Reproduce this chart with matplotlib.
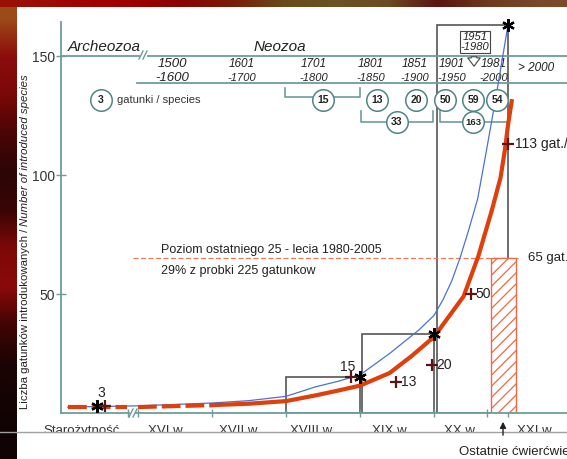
import numpy as np
import matplotlib.pyplot as plt
from matplotlib.colors import to_rgb

plt.rcParams['font.family'] = ['Liberation Sans', 'DejaVu Sans']
plt.rcParams['hatch.linewidth'] = 0.9

# cumulative curves (year, number of species)
red_years = [1405, 1485, 1500, 1600, 1650, 1700, 1740, 1770, 1800, 1840, 1870,
             1900, 1920, 1940, 1960, 1978, 1990, 1996, 2000, 2005]
red_values = [2.5, 2.5, 2.5, 3.3, 3.9, 5.0, 7.4, 9.4, 11.5, 16.8, 24.0,
              32.0, 40.5, 49.0, 66.0, 85.0, 99.0, 111.0, 121.0, 131.0]
blue_years = [1405, 1500, 1600, 1650, 1700, 1740, 1770, 1800, 1840, 1880, 1900,
              1912, 1924, 1935, 1947, 1959, 1971, 1983, 2000]
blue_values = [2.5, 3.0, 4.2, 5.2, 7.0, 11.0, 13.3, 16.0, 25.0, 35.0, 41.0,
               47.5, 55.5, 65.0, 77.0, 90.0, 110.5, 131.5, 163.0]

# species per century
century_start = [1700, 1800, 1900]
century_end = [1800, 1900, 2000]
century_counts = [15, 33, 163]

star_years = [1445, 1800, 1900, 2000]
star_values = [3, 15, 33, 163]

plus_years = [1455, 1788, 1849, 1897, 1950, 2000]
plus_values = [3, 15, 13, 20, 50, 113]

# last quarter century 1980-2005
recent_start, recent_end, recent_count = 1977, 2011, 65

period_top = ['1500', '1601', '1701', '1801', '1851', '1901', '1981']
period_bottom = ['-1600', '-1700', '-1800', '-1850', '-1900', '-1950', '-2000']
period_counts = [15, 13, 20, 50, 59, 54]
half_counts = [33, 163]

century_labels = ['Starożytność', 'XVI w.', 'XVII w.', 'XVIII w.', 'XIX w.',
                  'XX w.', 'XXI w.']

W, H = 567, 459
teal = '#6e9c9c'
ring = '#4f8585'
red = '#df3f0c'
blue = '#4a72d4'
box = '#555555'
plus_c = '#5a1616'
ink = '#222222'


def X(px):
    return 1500 + (px - 138) / 0.74


def Y(py):
    return (413 - py) / 2.38


fig = plt.figure(figsize=(W / 100, H / 100), dpi=100)
fig.patch.set_facecolor('white')

# slide frame
bg = fig.add_axes([0, 0, 1, 1], zorder=0)
left_cols = ['#9c4a1a', '#8c0c0c', '#7a0808', '#4a0505', '#2c0505', '#3a0505',
             '#7e0808', '#8a0a0a', '#400404', '#1c0404', '#140303', '#100303']
top_cols = ['#9a1005', '#a00404', '#a00000', '#8a0202', '#7a1a08', '#6a4a1c',
            '#6a5222', '#6c4c22', '#5c1410', '#6e3a20', '#7a4a2a']
bg.imshow(np.array([to_rgb(c) for c in left_cols])[:, None, :],
          extent=[0, 17, H, 0], aspect='auto', interpolation='bilinear')
bg.imshow(np.array([to_rgb(c) for c in top_cols])[None, :, :],
          extent=[0, W, 7, 0], aspect='auto', interpolation='bilinear')
bg.set_xlim(0, W)
bg.set_ylim(H, 0)
bg.axis('off')

ax = fig.add_axes([61 / W, (H - 413) / H, (W - 61) / W, (413 - 22) / H], zorder=1)
ax.set_xlim(X(61), X(W))
ax.set_ylim(0, Y(22))
ax.patch.set_visible(False)
for s in ['top', 'right', 'bottom']:
    ax.spines[s].set_visible(False)
ax.spines['left'].set_color(teal)
ax.spines['left'].set_linewidth(1.3)

ax.set_yticks([50, 100, 150])
ax.tick_params(axis='y', direction='inout', length=7, width=1, color=teal,
               labelcolor='#333333', labelsize=10, pad=1)
ax.set_xticks([1486, 1500, 1600, 1700, 1800, 1900, 1972, 2000])
ax.set_xticklabels([])
ax.tick_params(axis='x', which='major', direction='inout', length=6, width=1,
               color=teal)
ax.set_xticks([X(p) for p in [82, 167, 240, 313, 391, 461, 536]], minor=True)
ax.set_xticklabels(century_labels, minor=True)
ax.tick_params(axis='x', which='minor', length=0, pad=8.5, labelsize=9.5,
               labelcolor='#333333')

# x axis line with a break
ax.plot([X(61), X(129)], [0, 0], color=teal, lw=1.3, clip_on=False, zorder=6)
ax.plot([X(136), X(W)], [0, 0], color=teal, lw=1.3, clip_on=False, zorder=6)

# header lines
ax.plot([X(61), X(139)], [150, 150], color=teal, lw=1.3, clip_on=False)
ax.plot([X(148), X(W)], [150, 150], color=teal, lw=1.3, clip_on=False)
ax.plot([X(137), X(W)], [Y(83), Y(83)], color=teal, lw=1.3, clip_on=False)

ax.text(X(68), Y(47), 'Archeozoa', style='italic', fontsize=11, va='center',
        color=ink)
ax.text(X(280), Y(47), 'Neozoa', style='italic', fontsize=11, va='center',
        ha='center', color=ink)

period_x = [172, 242, 314, 371, 415, 452, 494]
for i, (a, b) in enumerate(zip(period_top, period_bottom)):
    fs_a, fs_b = (9.5, 9.5) if i == 0 else (8.5, 8)
    ax.text(X(period_x[i]), Y(64), a, style='italic', fontsize=fs_a,
            ha='center', va='center', color=ink)
    ax.text(X(period_x[i]), Y(78), b, style='italic', fontsize=fs_b,
            ha='center', va='center', color=ink)
ax.text(X(536), Y(68), '> 2000', style='italic', fontsize=8.5, ha='center',
        va='center', color=ink)
ax.text(X(475), Y(42), '1951\n-1980', style='italic', fontsize=8, ha='center',
        va='center', color=ink, linespacing=0.95,
        bbox=dict(boxstyle='square,pad=0.1', fc='white', ec='#444444', lw=0.8))
ax.annotate('', xy=(X(474), Y(69)), xytext=(X(474), Y(54)),
            arrowprops=dict(arrowstyle='simple,head_length=0.6,head_width=0.9,'
                                       'tail_width=0.4',
                            fc='white', ec='#444444', lw=0.8))

# brackets grouping periods
ax.plot([X(285), X(285), X(360), X(360)], [Y(88), Y(97), Y(97), Y(88)],
        color=teal, lw=1.2, zorder=3, clip_on=False)
ax.plot([X(361), X(361), X(433), X(433)], [Y(111), Y(122), Y(122), Y(111)],
        color=teal, lw=1.2, zorder=3, clip_on=False)
ax.plot([X(440), X(440), X(508)], [Y(111), Y(122), Y(122)],
        color=teal, lw=1.2, zorder=3, clip_on=False)

circ_x = [101] + [323, 377, 416, 445, 473, 497] + [397, 473]
circ_y = [100] * 7 + [122, 122]
circ_n = [3] + period_counts + half_counts
ax.scatter([X(c) for c in circ_x], [Y(c) for c in circ_y], s=240,
           facecolor='white', edgecolor=ring, lw=1.1, zorder=4, clip_on=False)
for cx, cy, n in zip(circ_x, circ_y, circ_n):
    ax.text(X(cx), Y(cy), str(n), fontsize=7.5 if n < 100 else 6.8,
            fontweight='bold', ha='center', va='center', color=ink, zorder=5)
ax.text(X(117), Y(100), 'gatunki / species', fontsize=8, va='center',
        color='#333333')

# per-century boxes
gaps = [0, 2.5, 3.5]
lefts = [s + g for s, g in zip(century_start, gaps)]
widths = [e - l for e, l in zip(century_end, lefts)]
ax.bar(lefts, century_counts, width=widths, align='edge', fill=False,
       edgecolor=box, lw=1.2, zorder=1)

# recent quarter century
ax.bar(recent_start, recent_count, width=recent_end - recent_start,
       align='edge', facecolor='white', edgecolor='#ee6a42', hatch='///',
       lw=1, zorder=2)
ax.plot([X(133), X(518)], [recent_count, recent_count], color='#ea7a5a',
        lw=0.9, dashes=(4, 2), zorder=1.5)
ax.text(X(161), Y(250), 'Poziom ostatniego 25 - lecia 1980-2005', fontsize=9,
        va='center', color=ink)
ax.text(X(161), Y(271), '29% z probki 225 gatunkow', fontsize=9, va='center',
        color=ink)
ax.text(X(528), recent_count, f'{recent_count} gat.', fontsize=9.5,
        va='center', color=ink, clip_on=False)

# curves
ax.plot(blue_years, blue_values, color=blue, lw=0.9, zorder=3)
ry = np.array(red_years)
rv = np.array(red_values)
seg1 = ry <= 1485
seg2 = (ry >= 1500) & (ry <= 1600)
seg3 = ry >= 1600
ax.plot(ry[seg1], rv[seg1], color=red, lw=3, dashes=(4.5, 1.2), zorder=4)
ax.plot(ry[seg2], rv[seg2], color=red, lw=3, dashes=(4.5, 1.2), zorder=4)
ax.plot(ry[seg3], rv[seg3], color=red, lw=3, zorder=4)

ax.plot(star_years, star_values, ls='none', marker=(6, 2, 0), ms=9, mew=1.6,
        color='black', zorder=7, clip_on=False)
ax.plot(plus_years, plus_values, ls='none', marker='+', ms=8, mew=1.6,
        color=plus_c, zorder=7)

ax.text(X(101), plus_values[0] + 2.5, str(plus_values[0]), fontsize=10,
        ha='center', va='bottom', color=ink)
ax.text(X(348), plus_values[1] + 1.5, str(plus_values[1]), fontsize=10,
        ha='center', va='bottom', color=ink)
for yr, v in zip(plus_years[2:5], plus_values[2:5]):
    ax.text(yr + 6, v, str(v), fontsize=10, va='center', color=ink)
ax.text(plus_years[5] + 10, plus_values[5], f'{plus_values[5]} gat./sp.',
        fontsize=10, va='center', color=ink, clip_on=False)

# y axis title: plain Polish part, italic English part right after it
ov = fig.add_axes([0, 0, 1, 1], zorder=10)
ov.set_xlim(0, W)
ov.set_ylim(H, 0)
ov.axis('off')
t1 = ov.text(25, 409, 'Liczba gatunków introdukowanych / ', fontsize=8.2,
             rotation=90, rotation_mode='anchor', ha='left', va='center',
             color=ink)
fig.canvas.draw()
top_px = H - t1.get_window_extent().y1
ov.text(25, top_px, 'Number of introduced species', fontsize=8.2,
        style='italic', rotation=90, rotation_mode='anchor', ha='left',
        va='center', color=ink)

# axis breaks, slide bottom
for bx, by in [(141, 55), (131, 413)]:
    for d in (0, 4):
        ov.plot([bx + d - 2, bx + d + 2], [by + 4, by - 4], color=teal, lw=1)
ov.add_patch(plt.Rectangle((17, 432.5), W - 17, H - 432.5, fc='white', ec='none'))
ov.plot([0, W], [432, 432], color='#a0a0a0', lw=1)
ov.annotate('', xy=(503, 419), xytext=(503, 438),
            arrowprops=dict(arrowstyle='-|>', color=ink, lw=1,
                            mutation_scale=9))
ov.text(459, 452, 'Ostatnie ćwierćwiecze', fontsize=9.5, va='center',
        color=ink)

fig.savefig('out.png', dpi=100)
